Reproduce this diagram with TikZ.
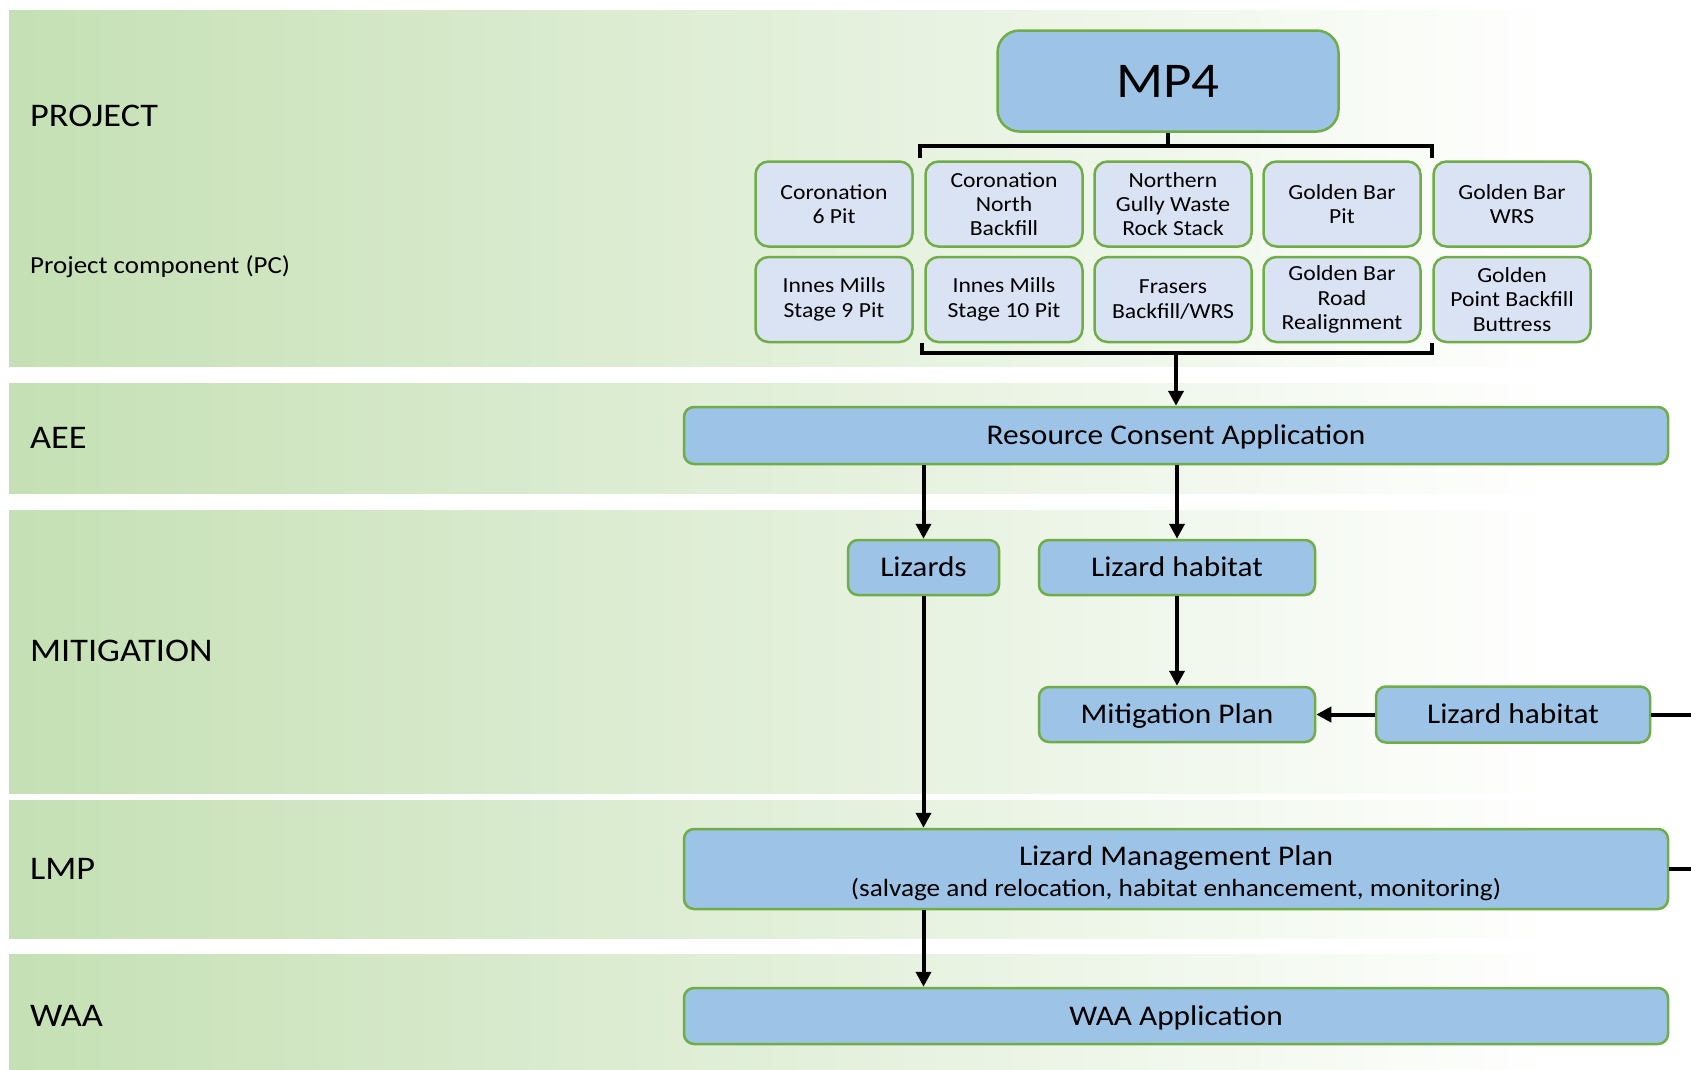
\documentclass[tikz,border=0pt]{standalone}
\usepackage{fontspec}
\setmainfont{Carlito}[FakeStretch=1.1]
\usetikzlibrary{arrows.meta}
\definecolor{bandgreen}{RGB}{197,224,180}
\definecolor{boxblue}{RGB}{157,195,230}
\definecolor{boxlight}{RGB}{218,227,243}
\definecolor{boxedge}{RGB}{112,173,71}
\tikzset{
  band/.style={left color=bandgreen, right color=white, draw=none},
  bandlabel/.style={anchor=west, inner sep=0pt, font=\fontsize{33}{38}\selectfont},
  bigbox/.style={draw=boxedge, line width=2.5pt, fill=boxblue, rounded corners=10pt,
     inner sep=0pt, align=center, font=\fontsize{28.5}{31}\selectfont},
  oneline/.style={text height=22pt, text depth=4pt},
  smallbox/.style={draw=boxedge, line width=2.5pt, fill=boxlight, rounded corners=13pt,
     minimum width=157pt, minimum height=85pt, inner sep=0pt, align=center,
     font=\fontsize{21.5}{24.3}\selectfont},
  conn/.style={line width=4pt},
  arr/.style={conn, -{Triangle[length=15pt,width=15pt]}}
}
\begin{document}
\begin{tikzpicture}[x=1pt,y=-1pt]
\useasboundingbox (0,0) rectangle (1691,1069);
\fill[white] (0,0) rectangle (1691,1069);
% bands
\fill[band] (9,10) rectangle (1560,366);
\fill[band] (9,383) rectangle (1560,493);
\fill[band] (9,510) rectangle (1560,793);
\fill[band] (9,800) rectangle (1560,938);
\fill[band] (9,954) rectangle (1560,1069);
% band labels
\node[bandlabel] (lproject) at (30,116) {PROJECT};
\node[bandlabel, font=\fontsize{24.5}{30}\selectfont] (lpc) at (30,267) {Project component (PC)};
\node[bandlabel] (laee) at (30,438) {AEE};
\node[bandlabel] (lmit) at (30,651) {MITIGATION};
\node[bandlabel] (llmp) at (30,869) {LMP};
\node[bandlabel] (lwaa) at (30,1016) {WAA};
% MP4
\node[bigbox, rounded corners=22pt, minimum width=341pt, minimum height=101pt,
      font=\fontsize{50}{56}\selectfont] (mp4) at (1168,81) {MP4};
% project components
\node[smallbox] (c11) at (834,204) {Coronation\\6 Pit};
\node[smallbox] (c12) at (1004,204) {Coronation\\North\\Backfill};
\node[smallbox] (c13) at (1173,204) {Northern\\Gully Waste\\Rock Stack};
\node[smallbox] (c14) at (1342,204) {Golden Bar\\Pit};
\node[smallbox] (c15) at (1512,204) {Golden Bar\\WRS};
\node[smallbox] (c21) at (834,299.5) {Innes Mills\\Stage 9 Pit};
\node[smallbox] (c22) at (1004,299.5) {Innes Mills\\Stage 10 Pit};
\node[smallbox] (c23) at (1173,299.5) {Frasers\\Backfill/WRS};
\node[smallbox] (c24) at (1342,299.5) {Golden Bar\\Road\\Realignment};
\node[smallbox] (c25) at (1512,299.5) {Golden\\Point Backfill\\Buttress};
% brackets
\coordinate (tbl) at (920,158);
\coordinate (tbr) at (1432,158);
\coordinate (tbm) at (1168,146);
\coordinate (bbl) at (922,343);
\coordinate (bbr) at (1432,343);
\coordinate (bbm) at (1176,353);
\draw[conn] (tbl) -- (tbl |- tbm) -- (tbr |- tbm) -- (tbr);
\draw[conn] (mp4.south) -- (tbm);
\draw[conn] (bbl) -- (bbl |- bbm) -- (bbr |- bbm) -- (bbr);
% main boxes
\node[bigbox, oneline, minimum width=984pt, minimum height=57pt] (rca) at (1176,435.5) {Resource Consent Application};
\node[bigbox, oneline, minimum width=151pt, minimum height=55pt] (liz) at (923.5,567.5) {Lizards};
\node[bigbox, oneline, minimum width=276pt, minimum height=55pt] (lh1) at (1177,567.5) {Lizard habitat};
\node[bigbox, oneline, minimum width=276pt, minimum height=55pt] (mit) at (1177,714.5) {Mitigation Plan};
\node[bigbox, oneline, minimum width=274pt, minimum height=56pt] (lh2) at (1513,714.5) {Lizard habitat};
\node[bigbox, minimum width=984pt, minimum height=80pt] (lmp) at (1176,869)
  {\rule{0pt}{28pt}Lizard Management Plan\\{\fontsize{24.8}{31}\selectfont (salvage and relocation, habitat enhancement, monitoring)}};
\node[bigbox, oneline, minimum width=984pt, minimum height=56pt] (waa) at (1176,1016) {WAA Application};
% connectors
\draw[arr] (bbm) -- (rca.north);
\draw[arr] (liz.north |- rca.south) -- (liz.north);
\draw[arr] (rca.south -| lh1.north) -- (lh1.north);
\draw[arr] (lh1.south) -- (mit.north);
\draw[arr] (liz.south) -- (liz.south |- lmp.north);
\draw[arr] (liz.south |- lmp.south) -- (liz.south |- waa.north);
\draw[arr] (lh2.west) -- (mit.east);
\coordinate (e1) at (1691,714.5);
\coordinate (e2) at (1691,869);
\draw[conn] (lh2.east) -- (e1);
\draw[conn] (lmp.east) -- (e2);
\end{tikzpicture}
\end{document}
